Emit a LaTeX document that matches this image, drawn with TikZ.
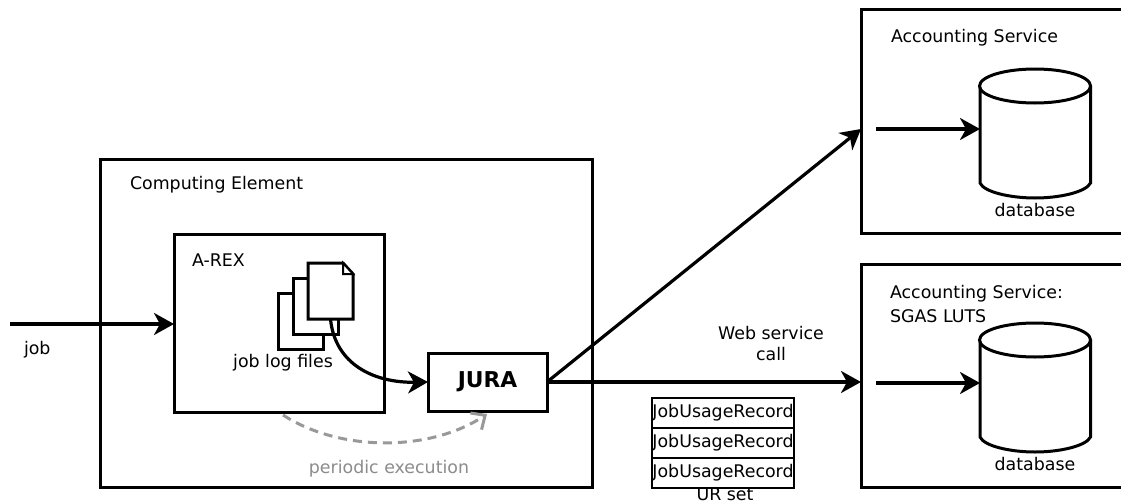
\documentclass[tikz,border=0pt]{standalone}
\usepackage{fontspec}
\setmainfont{DejaVu Sans}
\usetikzlibrary{arrows.meta}
\tikzset{
  x=1pt,y=-1pt,
  box/.style={draw,line width=3pt,fill=white,outer sep=0pt,inner sep=0pt},
  lbl/.style={inner sep=0pt,outer sep=0pt,font=\fontsize{17.4}{21}\selectfont},
  llbl/.style={lbl,anchor=west},
  arr/.style={line width=3.2pt,-{Stealth[length=20pt,width=22pt,inset=6pt]}},
  page/.style={box,minimum width=45pt,minimum height=56pt},
  rec/.style={draw,line width=1.5pt,fill=white,outer sep=0pt,inner sep=0pt,minimum width=142pt,minimum height=30pt,font=\fontsize{17.4}{21}\selectfont},
  cyl/.style={line width=3pt,fill=white},
  service/.style={inner sep=0pt,outer sep=0pt,minimum width=260pt,minimum height=223pt},
  open/.style={line width=3pt},
  periodic/.style={draw=black!40,line width=3pt,dash pattern=on 9pt off 6pt,-{Straight Barb[length=11pt,width=20pt,line width=3pt]}},
}
\begin{document}
\begin{tikzpicture}
\useasboundingbox (0,0) rectangle (1121,503);
% containers
\node[box,minimum width=492pt,minimum height=328pt] (ce) at (346,323) {};
\node[box,minimum width=210pt,minimum height=178pt] (arex) at (279,323) {};
\node[service] (as1) at (991,121.5) {};
\node[service] (as2) at (991,375.5) {};
\draw[open] (as1.north east) -- (as1.north west) -- (as1.south west) -- (as1.south east);
\draw[open] (as2.north east) -- (as2.north west) -- (as2.south west) -- (as2.south east);
% labels
\node[llbl] (celbl) at (130,185) {Computing Element};
\node[llbl] (arexlbl) at (192,260) {A-REX};
\node[llbl] (joblbl) at (24,350) {job};
\node[llbl] (as1lbl) at (891,38) {Accounting Service};
\node[llbl] (as2lbl) at (890,294) {Accounting Service:};
\node[llbl] (sgas) at (890,316) {SGAS LUTS};
% pages
\node[page] (p1) at (300.5,321) {};
\node[page] (p2) at (315.5,306) {};
\node[minimum width=45pt,minimum height=56pt,inner sep=0pt,outer sep=0pt] (p3) at (330.5,291) {};
\draw[line width=3pt,fill=white,line join=miter] (308,263) -- (343,263) -- (353,274) -- (353,319) -- (308,319) -- cycle;
\draw[line width=2pt,fill=white] (343,263) -- (343,274) -- (353,274) -- cycle;
\node[lbl] (logs) at (283,363) {job log files};
% JURA
\node[box,minimum width=119pt,minimum height=58pt,font=\fontsize{21.8}{24}\selectfont\bfseries] (jura) at (487.5,382) {\raisebox{-1pt}{JURA}};
% cylinders
\foreach \n/\oy in {c1/0,c2/254}{
  \begin{scope}[yshift=-\oy pt]
    \draw[cyl] (980,86) -- (980,183) .. controls (984,192) and (1010,198) .. (1035,198) .. controls (1060,198) and (1086,192) .. (1090.5,183) -- (1090.5,86);
    \draw[cyl] (1035,86) ellipse [x radius=55.5pt,y radius=17pt];
    \coordinate (\n) at (980,129);
    \coordinate (\n-s) at (876,129);
  \end{scope}
}
\node[lbl] (db1) at (1035,210) {database};
\node[lbl] (db2) at (1035,464) {database};
% records
\node[rec] (r1) at (723,413) {\raisebox{1pt}{JobUsageRecord}};
\node[rec] (r2) at (723,443) {\raisebox{1pt}{JobUsageRecord}};
\node[rec] (r3) at (723,473) {\raisebox{1pt}{JobUsageRecord}};
\node[lbl] (urset) at (725,494.5) {UR set};
\node[lbl,align=center] (ws) at (771,344) {Web service\\call};
\node[lbl,text=black!45] (per) at (389,469) {periodic execution};
% connectors
\coordinate (jobs) at (10,324);
\coordinate (arexin) at (arex.west |- jobs);
\draw[arr] (jobs) -- (arexin);
\draw[arr] (c1-s) -- (c1);
\draw[arr] (c2-s) -- (c2);
\coordinate (p3out) at (p3.south);
\coordinate (jurain) at (jura.west);
\draw[arr] (p3out) .. controls (335,365) and (375,383) .. (jurain);
\coordinate (juraout) at (jura.east);
\coordinate (as2in) at (as2.west |- juraout);
\coordinate (as1in) at (861,129);
\draw[arr] (juraout) -- (as1in);
\draw[arr] (juraout) -- (as2in);
\coordinate (ps) at (283,415);
\coordinate (pe) at (487,414);
\draw[periodic] (ps) .. controls (340,452) and (430,452) .. (pe);
\end{tikzpicture}
\end{document}
